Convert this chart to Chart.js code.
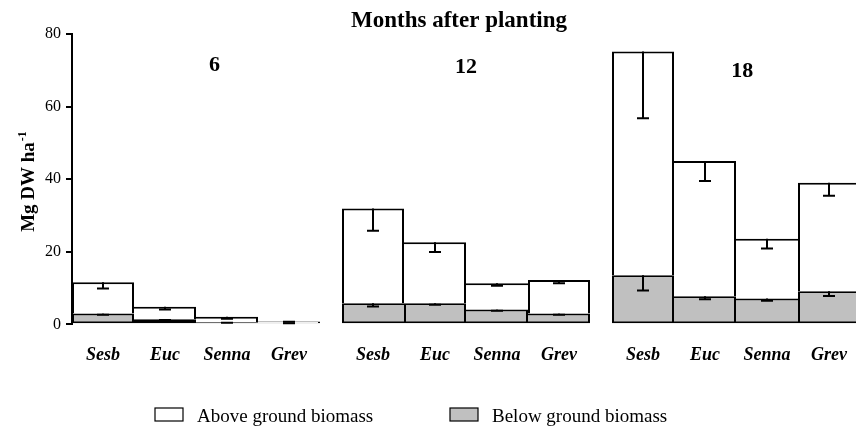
<!DOCTYPE html>
<html lang="en">
<head>
  <meta charset="UTF-8">
  <title>Biomass by months after planting</title>
  <script src="https://cdn.jsdelivr.net/npm/chart.js"></script>
  <style>
    html, body { margin: 0; padding: 0; background: #fff; overflow: hidden; }
    #wrap { width: 856px; height: 427px; overflow: hidden; }
    canvas { display: block; }
  </style>
</head>
<body>
  <div id="wrap"><canvas id="biomassChart" width="870" height="427"></canvas></div>

  <script>
    // groups and species (4 bars per group)
    const months = ['6', '12', '18'];
    const species = ['Sesb', 'Euc', 'Senna', 'Grev'];
    const yTicks = [0, 20, 40, 60, 80];

    // Mg DW ha-1: 6 months, 12 months, 18 months
    const belowMean = [3.0, 1.4, 0.55, 0.35,  5.8, 5.8, 4.1, 2.95,   13.5, 7.7, 7.1, 9.1];
    const aboveMean = [8.6, 3.45, 1.55, 0.45, 26.1, 16.8, 7.2, 9.25,  61.7, 37.3, 16.5, 29.9];
    const belowErr  = [0.4, 0.2, 0.1, 0.05,   0.9, 0.4, 0.4, 0.35,    4.2, 0.8, 0.6, 1.3];
    const aboveErr  = [1.7, 0.75, 0.55, 0.1,  6.1, 2.7, 0.7, 0.9,     18.4, 5.5, 2.7, 3.6];

    const GROUP_GAP = 0.355;  // gap between month groups, in bar widths
    const xPos = i => Math.floor(i / 4) * (4 + GROUP_GAP) + (i % 4) + 0.5;
    const xMax = months.length * 4 + (months.length - 1) * GROUP_GAP;

    const serif = "'Liberation Serif', 'Times New Roman', serif";
    Chart.defaults.font.family = serif;
    Chart.defaults.color = '#000';

    // top of the stacked segment of dataset di at bar i
    function stackTop(chart, di, i) {
      let total = 0;
      for (let k = 0; k <= di; k++) total += chart.data.datasets[k].data[i].y;
      return total;
    }

    // draws the downward SE bars from the top of each stacked segment
    const errorBars = {
      id: 'errorBars',
      afterDatasetsDraw(chart) {
        const { ctx } = chart;
        const y = chart.scales.y;
        ctx.save();
        ctx.strokeStyle = '#000';
        ctx.lineWidth = 2;
        chart.data.datasets.forEach((ds, di) => {
          chart.getDatasetMeta(di).data.forEach((bar, i) => {
            const total = stackTop(chart, di, i);
            const top = y.getPixelForValue(total);
            const low = y.getPixelForValue(total - ds.errors[i]);
            ctx.beginPath();
            ctx.moveTo(bar.x, top);
            ctx.lineTo(bar.x, low);
            ctx.moveTo(bar.x - 6, low);
            ctx.lineTo(bar.x + 6, low);
            ctx.stroke();
          });
        });
        ctx.restore();
      }
    };

    // title, month labels, y axis title with superscript, legend
    const labelsPlugin = {
      id: 'labelsPlugin',
      afterDraw(chart) {
        const { ctx, chartArea } = chart;
        const x = chart.scales.x;
        ctx.save();
        ctx.fillStyle = '#000';

        ctx.font = 'bold 23px ' + serif;
        ctx.textAlign = 'center';
        ctx.textBaseline = 'alphabetic';
        ctx.fillText('Months after planting', (chartArea.left + chartArea.right) / 2 - 7, 27);

        ctx.font = 'bold 22px ' + serif;
        const shift = [0.3, 0, 0.1];
        const base = [71, 73, 77];
        months.forEach((m, g) => {
          const cx = x.getPixelForValue(g * (4 + GROUP_GAP) + 2 + shift[g]);
          ctx.fillText(m, cx, base[g]);
        });

        // y axis title
        ctx.save();
        ctx.translate(34, 182);
        ctx.rotate(-Math.PI / 2);
        ctx.textAlign = 'left';
        ctx.font = 'bold 19px ' + serif;
        const main = 'Mg DW ha';
        const wMain = ctx.measureText(main).width;
        ctx.font = 'bold 12px ' + serif;
        const wSup = ctx.measureText('-1').width;
        const start = -(wMain + wSup) / 2;
        ctx.font = 'bold 19px ' + serif;
        ctx.fillText(main, start, 0);
        ctx.font = 'bold 12px ' + serif;
        ctx.fillText('-1', start + wMain + 1, -8);
        ctx.restore();

        // legend
        const items = [chart.data.datasets[1], chart.data.datasets[0]];
        const boxX = [155, 450];
        ctx.font = '19px ' + serif;
        ctx.textAlign = 'left';
        ctx.lineWidth = 1.2;
        items.forEach((ds, k) => {
          ctx.fillStyle = ds.backgroundColor;
          ctx.fillRect(boxX[k], 408, 28, 13);
          ctx.strokeStyle = '#000';
          ctx.strokeRect(boxX[k], 408, 28, 13);
          ctx.fillStyle = '#000';
          ctx.fillText(ds.label, boxX[k] + 42, 422);
        });
        ctx.restore();
      }
    };

    // shared edge between neighbouring bars is drawn once, by the taller one
    const borderWidth = c => {
      const i = c.dataIndex, di = c.datasetIndex, ch = c.chart;
      const h = stackTop(ch, di, i);
      const first = i % 4 === 0, last = i % 4 === 3;
      return {
        top: 2,
        bottom: 2,
        left: first || h >= stackTop(ch, di, i - 1) ? 2 : 0,
        right: last || h > stackTop(ch, di, i + 1) ? 2 : 0
      };
    };

    const ctx = document.getElementById('biomassChart').getContext('2d');
    new Chart(ctx, {
      type: 'bar',
      data: {
        datasets: [
          {
            label: 'Below ground biomass',
            data: belowMean.map((v, i) => ({ x: xPos(i), y: v })),
            errors: belowErr,
            backgroundColor: '#c0c0c0',
            borderSkipped: false
          },
          {
            label: 'Above ground biomass',
            data: aboveMean.map((v, i) => ({ x: xPos(i), y: v })),
            errors: aboveErr,
            backgroundColor: '#ffffff',
            borderSkipped: 'start'
          }
        ]
      },
      options: {
        responsive: false,
        animation: false,
        layout: { padding: { top: 34, right: 10, left: 0, bottom: 0 } },
        datasets: {
          bar: {
            categoryPercentage: 1,
            barPercentage: 1,
            inflateAmount: 0,
            borderColor: '#000',
            borderWidth: borderWidth
          }
        },
        scales: {
          x: {
            type: 'linear',
            offset: false,
            stacked: true,
            min: 0,
            max: xMax,
            grid: { display: false, drawTicks: false },
            border: { display: false },
            afterBuildTicks: s => { s.ticks = belowMean.map((v, i) => ({ value: xPos(i) })); },
            afterFit: s => { s.height = 102.7; },
            ticks: {
              autoSkip: false,
              maxRotation: 0,
              padding: 20,
              font: { size: 18, weight: 'bold', style: 'italic' },
              callback: (v, i) => species[i % 4]
            }
          },
          y: {
            stacked: true,
            min: 0,
            max: 80,
            afterBuildTicks: s => { s.ticks = yTicks.map(v => ({ value: v })); },
            afterFit: s => { s.width = 72; },
            ticks: { font: { size: 16 }, padding: 5 },
            grid: { drawOnChartArea: false, tickLength: 6, lineWidth: 2, color: '#000' },
            border: { color: '#000', width: 2 }
          }
        },
        plugins: {
          legend: { display: false },
          title: { display: false },
          tooltip: { enabled: false }
        }
      },
      plugins: [errorBars, labelsPlugin]
    });
  </script>
</body>
</html>
